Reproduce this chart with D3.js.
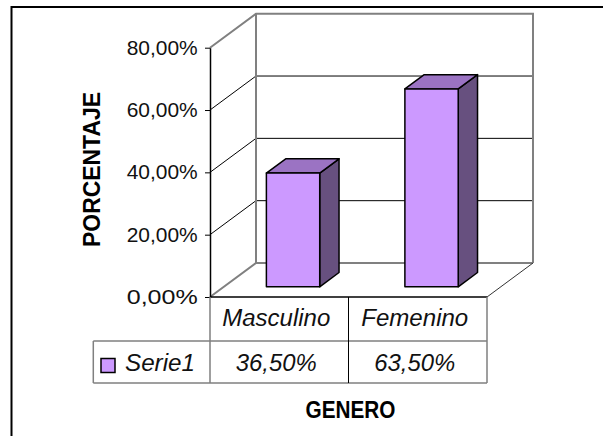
<!DOCTYPE html>
<html>
<head>
<meta charset="utf-8">
<script src="https://cdn.jsdelivr.net/npm/d3@7"></script>
<style>
  body { margin: 0; background: #fff; }
  text { font-family: "Liberation Sans", Arial, sans-serif; }
</style>
</head>
<body>
<div id="chart"></div>
<script>
const categories = ["Masculino", "Femenino"];
const values = [0.365, 0.635];
const seriesName = "Serie1";
const yTicks = [0, 0.2, 0.4, 0.6, 0.8];
const yTitle = "PORCENTAJE";
const xTitle = "GENERO";

const FRONT = "#CC99FF";
const TOP = "#9B73C3";
const SIDE = "#67507F";
const WALL = "#808080";

const width = 603, height = 436;
const es = d3.formatLocale({decimal: ",", thousands: ".", grouping: [3], currency: ["", "€"]});
const pct = es.format(".2%");

// front plane of the floor, and the depth vector to the back wall
const x0 = 210, x1 = 487;
const depth = [46, -34];
const barFront = 0.30, barBack = 0.72;

const x = d3.scaleBand().domain(categories).range([x0, x1]);
const y = d3.scaleLinear().domain([0, 0.8]).range([297, 47.7]);

const svg = d3.select("#chart").append("svg")
  .attr("width", width)
  .attr("height", height);

// outer frame
svg.append("rect")
  .attr("x", 11.5).attr("y", 7)
  .attr("width", 700).attr("height", 500)
  .attr("fill", "#fff")
  .attr("stroke", "#000")
  .attr("stroke-width", 2);

const bx0 = x0 + depth[0], bx1 = x1 + depth[0];

// gridlines on back wall and side wall
const grid = svg.append("g");
grid.selectAll(".back")
  .data(yTicks.slice(1, -1))
  .enter().append("line")
  .attr("x1", bx0).attr("x2", bx1)
  .attr("y1", d => y(d) + depth[1]).attr("y2", d => y(d) + depth[1])
  .attr("stroke", "#000").attr("stroke-width", 1);
grid.selectAll(".side")
  .data(yTicks.slice(1, -1))
  .enter().append("line")
  .attr("x1", x0).attr("y1", d => y(d))
  .attr("x2", bx0).attr("y2", d => y(d) + depth[1])
  .attr("stroke", "#000").attr("stroke-width", 1);

// wall outlines
const yTop = y(0.8), yBot = y(0);
svg.append("path")
  .attr("d", `M${x0},${yBot}L${bx0},${yBot + depth[1]}L${bx1},${yBot + depth[1]}`
    + `M${x0},${yTop}L${bx0},${yTop + depth[1]}L${bx1},${yTop + depth[1]}L${bx1},${yBot + depth[1]}`
    + `M${bx0},${yTop + depth[1]}L${bx0},${yBot + depth[1]}`)
  .attr("fill", "none")
  .attr("stroke", WALL)
  .attr("stroke-width", 2);
svg.append("line")
  .attr("x1", x1).attr("y1", yBot)
  .attr("x2", bx1).attr("y2", yBot + depth[1])
  .attr("stroke", "#333").attr("stroke-width", 1);

// bars
const bw = x.bandwidth() * 0.385;
const fdx = depth[0] * barFront, fdy = depth[1] * barFront;
const ddx = depth[0] * (barBack - barFront), ddy = depth[1] * (barBack - barFront);

const bars = svg.append("g").selectAll("g")
  .data(categories.map((c, i) => ({c, v: values[i]})))
  .enter().append("g")
  .attr("stroke", "#000")
  .attr("stroke-width", 1.5)
  .attr("stroke-linejoin", "round");

bars.each(function (d) {
  const g = d3.select(this);
  const l = x(d.c) + (x.bandwidth() - bw) / 2 + fdx;
  const r = l + bw;
  const t = y(d.v) + fdy;
  const b = y(0) + fdy;
  g.append("path")
    .attr("d", `M${r},${t}L${r + ddx},${t + ddy}L${r + ddx},${b + ddy}L${r},${b}Z`)
    .attr("fill", SIDE);
  g.append("path")
    .attr("d", `M${l},${t}L${l + ddx},${t + ddy}L${r + ddx},${t + ddy}L${r},${t}Z`)
    .attr("fill", TOP);
  g.append("rect")
    .attr("x", l).attr("y", t)
    .attr("width", bw).attr("height", b - t)
    .attr("fill", FRONT);
});

// floor front edge
svg.append("line")
  .attr("x1", x0).attr("x2", x1)
  .attr("y1", yBot).attr("y2", yBot)
  .attr("stroke", "#000").attr("stroke-width", 1.5);

// value axis
const axis = svg.append("g")
  .attr("transform", `translate(${x0},0)`)
  .call(d3.axisLeft(y).tickValues(yTicks).tickFormat(pct).tickSize(5).tickSizeOuter(0).tickPadding(7.3));
axis.select(".domain").attr("stroke", "#000").attr("stroke-width", 1.5);
axis.selectAll(".tick line").attr("stroke", "#000");
axis.selectAll(".tick text")
  .attr("fill", "#111")
  .style("font-family", "'Liberation Sans', Arial, sans-serif")
  .style("font-size", "20px")
  .attr("textLength", 71)
  .attr("lengthAdjust", "spacingAndGlyphs");

// data table
const r0 = yBot, r1 = 341, r2 = 383, lx = 93.3;
const table = svg.append("g");
table.append("path")
  .attr("d", `M${lx},${r1}L${x1},${r1}M${lx},${r2}L${x1},${r2}M${lx},${r1}L${lx},${r2}`
    + `M${x0},${r0}L${x0},${r2}M${x1},${r0}L${x1},${r2}`)
  .attr("fill", "none")
  .attr("stroke", WALL)
  .attr("stroke-width", 1.5);
table.selectAll(".sep")
  .data(categories.slice(1))
  .enter().append("line")
  .attr("x1", d => x(d)).attr("x2", d => x(d))
  .attr("y1", r0).attr("y2", r2)
  .attr("stroke", "#000").attr("stroke-width", 1);

table.selectAll(".cat")
  .data(categories)
  .enter().append("text")
  .attr("x", d => x(d) + x.bandwidth() / 2 - 3)
  .attr("y", 325.5)
  .attr("text-anchor", "middle")
  .attr("font-style", "italic")
  .attr("font-size", 23)
  .attr("fill", "#111")
  .attr("textLength", (d, i) => [108, 107][i])
  .attr("lengthAdjust", "spacingAndGlyphs")
  .text(d => d);

table.selectAll(".val")
  .data(values)
  .enter().append("text")
  .attr("x", (d, i) => x(categories[i]) + x.bandwidth() / 2 - 3)
  .attr("y", 370.5)
  .attr("text-anchor", "middle")
  .attr("font-style", "italic")
  .attr("font-size", 23)
  .attr("fill", "#111")
  .attr("textLength", 81)
  .attr("lengthAdjust", "spacingAndGlyphs")
  .text(d => pct(d));

table.append("rect")
  .attr("x", 101).attr("y", 358.5)
  .attr("width", 14).attr("height", 14)
  .attr("fill", FRONT)
  .attr("stroke", "#000")
  .attr("stroke-width", 1.5);
table.append("text")
  .attr("x", 125).attr("y", 371)
  .attr("font-style", "italic")
  .attr("font-size", 23)
  .attr("fill", "#111")
  .attr("textLength", 70)
  .attr("lengthAdjust", "spacingAndGlyphs")
  .text(seriesName);

// axis titles
svg.append("text")
  .attr("transform", "translate(100,169.5) rotate(-90)")
  .attr("text-anchor", "middle")
  .attr("font-weight", "bold")
  .attr("font-size", 23.5)
  .attr("textLength", 155)
  .attr("lengthAdjust", "spacingAndGlyphs")
  .text(yTitle);

svg.append("text")
  .attr("x", 350.5).attr("y", 418)
  .attr("text-anchor", "middle")
  .attr("font-weight", "bold")
  .attr("font-size", 23)
  .attr("textLength", 90)
  .attr("lengthAdjust", "spacingAndGlyphs")
  .text(xTitle);
</script>
</body>
</html>
